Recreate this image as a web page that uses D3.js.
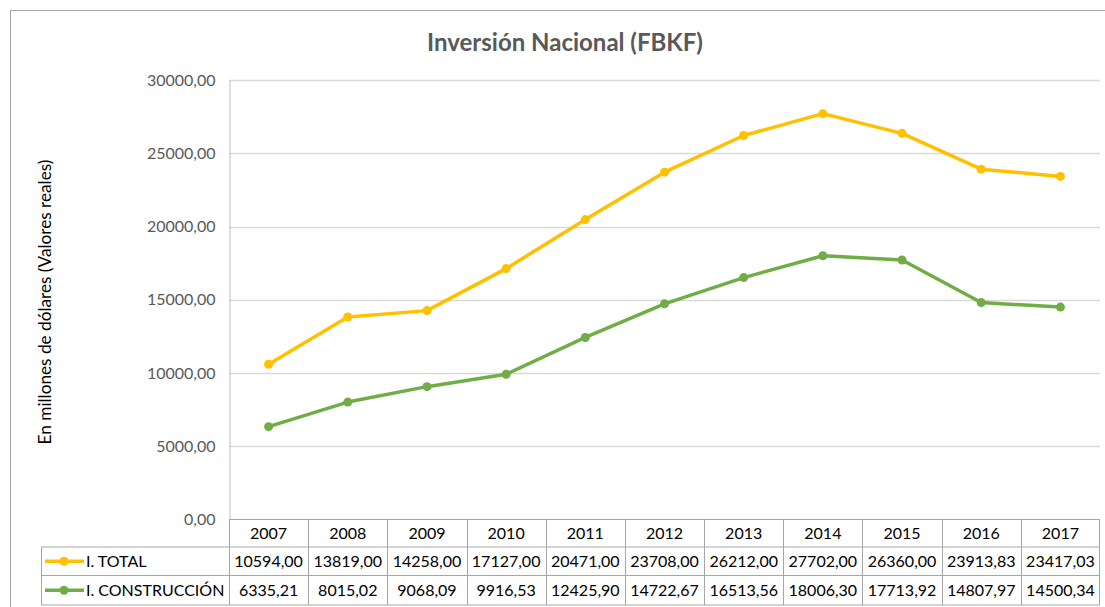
<!DOCTYPE html>
<html><head><meta charset="utf-8">
<script src="https://cdn.jsdelivr.net/npm/d3@7"></script>
<style>html,body{margin:0;padding:0;background:#fff;}svg{display:block;}</style>
</head><body>
<svg id="c" width="1105" height="607"></svg>
<script>
const years = ["2007","2008","2009","2010","2011","2012","2013","2014","2015","2016","2017"];
const totalVals = [10594.00,13819.00,14258.00,17127.00,20471.00,23708.00,26212.00,27702.00,26360.00,23913.83,23417.03];
const construccionVals = [6335.21,8015.02,9068.09,9916.53,12425.90,14722.67,16513.56,18006.30,17713.92,14807.97,14500.34];
const seriesNames = ["I. TOTAL","I. CONSTRUCCIÓN"];
const yTicks = [0,5000,10000,15000,20000,25000,30000];
const titleText = "Inversión Nacional (FBKF)";
const yTitle = "En millones de dólares (Valores reales)";

const colors = ["#FFC000","#70AD47"];
const series = [totalVals, construccionVals];
const fmt = v => d3.format(".2f")(v).replace(".", ",");

const svg = d3.select("#c");
const font = "Lato, 'Open Sans', sans-serif";
const L = 229, R = 1100, T = 80, B = 519.5;
const rowH = [27.5, 28.5, 29.5];
const tableLeft = 41.5;

// frame
svg.append("rect").attr("x",10.5).attr("y",10.5).attr("width",1200).attr("height",700)
  .attr("fill","none").attr("stroke","#A6A6A6").attr("stroke-width",1);

const x = d3.scaleBand().domain(years).range([L, R]).padding(0);
const y = d3.scaleLinear().domain([0,30000]).range([B, T]);

// gridlines
svg.append("g").selectAll("line").data(yTicks.filter(d=>d>0)).join("line")
  .attr("x1",L).attr("x2",R).attr("y1",d=>Math.round(y(d))+0.5).attr("y2",d=>Math.round(y(d))+0.5)
  .attr("stroke","#D9D9D9").attr("stroke-width",1.3);

// y axis
const yAxis = d3.axisLeft(y).tickValues(yTicks).tickFormat(fmt).tickSize(0).tickPadding(14);
const gy = svg.append("g").attr("transform",`translate(${L+0.5},0)`).call(yAxis);
gy.select(".domain").attr("stroke","#BFBFBF");
gy.selectAll("text").attr("font-family",font).attr("font-size",16).attr("fill","#595959");

// title
svg.append("text").attr("x",565).attr("y",51).attr("text-anchor","middle")
  .attr("font-family",font).attr("font-weight","bold").attr("font-size",24).attr("fill","#595959")
  .text(titleText);

// y title
svg.append("text").attr("transform",`translate(51,302) rotate(-90)`).attr("text-anchor","middle")
  .attr("font-family",font).attr("font-size",17.2).attr("fill","#000")
  .text(yTitle);

// lines
const line = d3.line().x((d,i)=>x(years[i])+x.bandwidth()/2).y(d=>y(d));
series.forEach((s,k)=>{
  svg.append("path").datum(s).attr("d",line).attr("fill","none")
    .attr("stroke",colors[k]).attr("stroke-width",3.5).attr("stroke-linejoin","round");
  svg.append("g").selectAll("circle").data(s).join("circle")
    .attr("cx",(d,i)=>x(years[i])+x.bandwidth()/2).attr("cy",d=>y(d)).attr("r",4.5)
    .attr("fill",colors[k]);
});

// data table
const tb = svg.append("g");
const gridC = "#A6A6A6";
const y0 = B, y1 = y0+rowH[0], y2 = y1+rowH[1], y3 = y2+rowH[2];
tb.append("line").attr("x1",L).attr("x2",R).attr("y1",y0).attr("y2",y0).attr("stroke",gridC);
[y1,y2,y3].forEach(yy=>tb.append("line").attr("x1",tableLeft).attr("x2",R).attr("y1",yy).attr("y2",yy).attr("stroke",gridC));
tb.append("line").attr("x1",tableLeft).attr("x2",tableLeft).attr("y1",y1).attr("y2",y3).attr("stroke",gridC);
years.forEach(yr=>{
  const xx = Math.round(x(yr))+0.5;
  tb.append("line").attr("x1",xx).attr("x2",xx).attr("y1",y0).attr("y2",y3).attr("stroke",gridC);
});
tb.append("line").attr("x1",R-0.5).attr("x2",R-0.5).attr("y1",y0).attr("y2",y3).attr("stroke",gridC);

tb.selectAll("text.yr").data(years).join("text").attr("class","yr")
  .attr("x",d=>x(d)+x.bandwidth()/2).attr("y",(y0+y1)/2+6).attr("text-anchor","middle")
  .attr("font-family",font).attr("font-size",16).attr("fill","#000").text(d=>d);

const rowsY = [(y1+y2)/2, (y2+y3)/2];
series.forEach((s,k)=>{
  const cy = rowsY[k];
  tb.append("line").attr("x1",45).attr("x2",84).attr("y1",cy).attr("y2",cy)
    .attr("stroke",colors[k]).attr("stroke-width",3.5);
  tb.append("circle").attr("cx",64).attr("cy",cy).attr("r",4.5).attr("fill",colors[k]);
  tb.append("text").attr("x",86).attr("y",cy+6).attr("font-family",font).attr("font-size",16)
    .attr("fill","#000").text(seriesNames[k]);
  tb.selectAll(null).data(s).join("text")
    .attr("x",(d,i)=>x(years[i])+x.bandwidth()/2).attr("y",cy+6).attr("text-anchor","middle")
    .attr("font-family",font).attr("font-size",16).attr("fill","#000").text(d=>fmt(d));
});
</script>
</body></html>
